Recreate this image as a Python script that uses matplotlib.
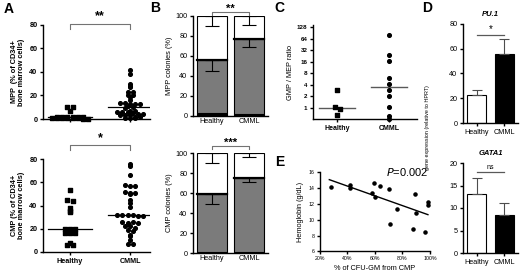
import numpy as np
import matplotlib
matplotlib.use("Agg")
import matplotlib.pyplot as plt
from matplotlib.ticker import FixedLocator, FuncFormatter

plt.rcParams['font.family'] = ['Liberation Sans', 'DejaVu Sans']
plt.rcParams['axes.linewidth'] = 1.0

# ---- data ----
groups = ["Healthy", "CMML"]

# A: % of CD34+ bone marrow cells
mpp_healthy = [10.5, 10.5, 7, 1.5, 1.5, 1.5, 1.5, 1.5, 1.5, 1, 1, 1, 1, 0.5, 0.5, 0, 0]
mpp_cmml = [42, 38, 30, 28, 27, 23, 23, 20, 20, 19, 16, 14, 14, 13, 13, 13, 11, 10,
            9, 7, 7, 6, 6, 6, 5, 4, 4, 3, 3, 3, 2, 1.5, 1, 1, 0.5]
cmp_healthy = [53, 45, 44, 38, 35, 34, 20, 20, 20, 17, 16, 16, 16, 17, 8, 6, 6]
cmp_cmml = [76, 74, 66, 58, 57, 57, 52, 51, 51, 50, 45, 42, 39, 32, 32, 32, 32, 31, 31,
            26, 25, 26, 25, 22, 22, 21, 19, 18, 15, 14, 10, 7, 7]

# B: colony composition (%), bottom black / gray / white up to 100
mpp_black = [3, 2]
mpp_gray_top = [56, 77]
mpp_gray_err = [11, 8]
mpp_white_err = [10, 9]
cmp_black = [1, 1]
cmp_gray_top = [59, 75]
cmp_gray_err = [10, 4]
cmp_white_err = [10, 4]

# C: GMP / MEP ratio
gmp_healthy = [2.9, 1.06, 0.92, 0.64]
gmp_cmml = [81, 24, 16.7, 6, 4.2, 2.9, 2.0, 1.03, 0.6, 0.51]

# D: gene expression relative to HPRT (mean, sem)
pu1_mean = [23, 56]
pu1_err = [4, 11.5]
gata1_mean = [13.2, 8.4]
gata1_err = [3.5, 2.8]

# E: hemoglobin vs % CFU-GM from CMP
cfu_pct = [28.1, 42.4, 42.4, 59.3, 63.7, 57.8, 60.2, 70.1, 71.1, 76.0, 88.9, 89.9,
           87.9, 96.7, 98.5, 98.5]
hemoglobin = [14.1, 14.4, 14.0, 14.7, 14.3, 13.4, 12.9, 13.9, 9.4, 11.4, 13.2, 10.9,
              8.8, 8.4, 12.2, 11.8]

W, H = 520, 274
fig = plt.figure(figsize=(W / 100, H / 100), dpi=100)


def px_axes(left, top, right, bottom):
    # pixel box (from top-left corner) -> figure axes
    return fig.add_axes([left / W, 1 - bottom / H, (right - left) / W, (bottom - top) / H])


def clean(ax, tick_size=5, bold=False):
    for s in ['top', 'right']:
        ax.spines[s].set_visible(False)
    ax.tick_params(length=2.5, width=1.0, pad=1.5, labelsize=tick_size)
    if bold:
        for lab in ax.get_xticklabels() + ax.get_yticklabels():
            lab.set_fontweight('bold')


def swarm(values, center, step, bin_size):
    # spread points with similar values side by side
    vals = np.asarray(values, dtype=float)
    xs = np.full(len(vals), float(center))
    keys = np.round(vals / bin_size)
    for k in np.unique(keys):
        idx = np.where(keys == k)[0]
        n = len(idx)
        xs[idx] = center + (np.arange(n) - (n - 1) / 2) * step
    return xs


def bracket(ax, x0, x1, y, drop, label, size=9, dy=0.0):
    ax.plot([x0, x0, x1, x1], [y - drop, y, y, y - drop], color='0.45', lw=0.8,
            clip_on=False)
    ax.text((x0 + x1) / 2, y + dy, label, ha='center', va='bottom', fontsize=size,
            fontweight='bold', clip_on=False)


# ---------------- Panel A ----------------
for (top, bot), hv, cv, ylab, sig, by in [((25, 119), mpp_healthy, mpp_cmml,
                                           "MPP  (% of CD34+\nbone marrow cells)", "**", 81),
                                          ((159, 252), cmp_healthy, cmp_cmml,
                                           "CMP (% of CD34+\nbone marrow cells)", "*", 92)]:
    ax = px_axes(43, top, 150, bot)
    ax.scatter(swarm(hv, 0, 0.085, 2.2), hv, marker='s', s=7, color='black', clip_on=False,
               zorder=3)
    ax.scatter(swarm(cv, 1, 0.085, 2.6), cv, marker='o', s=7, color='black', clip_on=False,
               zorder=3)
    for x, v in zip([0, 1], [hv, cv]):
        m = np.median(v)
        ax.plot([x - 0.37, x + 0.37], [m, m], color='black', lw=0.9)
    ax.set_xlim(-0.45, 1.33)
    ax.set_ylim(0, 80)
    ax.set_yticks([0, 20, 40, 60, 80])
    ax.set_xticks([0, 1])
    ax.set_xticklabels(groups if top > 100 else ['', ''])
    if top < 100:
        ax.tick_params(axis='x', length=0)
    clean(ax, 5.2, bold=True)
    ax.set_ylabel(ylab, fontsize=5.3, fontweight='bold', labelpad=3, linespacing=1.1)
    bracket(ax, 0, 1, by, 4.5, sig, size=9, dy=1)

fig.text(4 / W, 1 - 2 / H, "A", fontsize=10, fontweight='bold', va='top')

# ---------------- Panel B ----------------
gray = '#7b7b7b'
for (top, bot), blk, gtop, gerr, werr, ylab, sig, by in [
        ((16, 116), mpp_black, mpp_gray_top, mpp_gray_err, mpp_white_err,
         "MPP colonies (%)", "**", 104),
        ((153, 253), cmp_black, cmp_gray_top, cmp_gray_err, cmp_white_err,
         "CMP colonies (%)", "***", 107)]:
    ax = px_axes(193, top, 268, bot)
    x = np.arange(2)
    gbar = np.array(gtop) - np.array(blk)
    wbar = 100 - np.array(gtop)
    ax.bar(x, blk, width=0.8, color='black', edgecolor='black', lw=0.8)
    ax.bar(x, gbar, bottom=blk, width=0.8, color=gray, edgecolor='black', lw=0.8)
    ax.bar(x, wbar, bottom=gtop, width=0.8, color='white', edgecolor='black', lw=0.8)
    ax.plot([x - 0.4, x + 0.4], [gtop, gtop], color='black', lw=1.6)
    ax.errorbar(x, gtop, yerr=[gerr, [0, 0]], fmt='none', ecolor='black', elinewidth=0.8,
                capsize=5, capthick=0.8)
    ax.errorbar(x, [100, 100], yerr=[werr, [0, 0]], fmt='none', ecolor='black',
                elinewidth=0.8, capsize=5, capthick=0.8)
    ax.set_xlim(-0.5, 1.5)
    ax.set_ylim(0, 100)
    ax.set_yticks([0, 20, 40, 60, 80, 100])
    ax.set_xticks(x)
    ax.set_xticklabels(groups)
    clean(ax, 5.2)
    ax.tick_params(axis='x', length=0)
    ax.set_ylabel(ylab, fontsize=5.3, labelpad=2)
    bracket(ax, 0, 1, by, 3, sig, size=8, dy=-2)

fig.text(150 / W, 1 - 1 / H, "B", fontsize=10, fontweight='bold', va='top')

# ---------------- Panel C ----------------
ax = px_axes(313, 25, 417, 119)
ax.set_yscale('log', base=2)
ax.scatter(swarm(gmp_healthy, 0, 0.1, 0.25), gmp_healthy, marker='s', s=7, color='black',
           clip_on=False, zorder=3)
ax.scatter(swarm(gmp_cmml, 1, 0.1, 0.12), gmp_cmml, marker='o', s=7, color='black',
           clip_on=False, zorder=3)
for x, v in zip([0, 1], [gmp_healthy, gmp_cmml]):
    m = np.median(v)
    ax.plot([x - 0.35, x + 0.35], [m, m], color='0.35', lw=1.0)
ax.set_xlim(-0.47, 1.54)
ax.set_ylim(0.5, 145)
ax.yaxis.set_major_locator(FixedLocator([1, 2, 4, 8, 16, 32, 64, 128]))
ax.yaxis.set_major_formatter(FuncFormatter(lambda v, p: f"{int(v)}"))
ax.yaxis.set_minor_locator(FixedLocator([]))
ax.set_xticks([0, 1])
ax.set_xticklabels(groups)
clean(ax, 4.5, bold=True)
ax.tick_params(axis='x', labelsize=5)
ax.set_ylabel("GMP / MEP ratio", fontsize=5.3, labelpad=2)
fig.text(274 / W, 1 - 1 / H, "C", fontsize=10, fontweight='bold', va='top')

# ---------------- Panel D ----------------
for (top, bot), mean, err, ttl, lim, ticks, sig, sy in [
        ((24, 123), pu1_mean, pu1_err, "PU.1", 80, [0, 20, 40, 60, 80], "*", 71),
        ((163, 253), gata1_mean, gata1_err, "GATA1", 20, [0, 5, 10, 15, 20], "ns", 18)]:
    ax = px_axes(463, top, 518, bot)
    x = np.arange(2)
    ax.bar(x, mean, width=0.69, color=['white', 'black'], edgecolor='black', lw=0.8)
    ax.errorbar(x, mean, yerr=[[0, 0], err], fmt='none', ecolor='0.3', elinewidth=0.8,
                capsize=3.5, capthick=0.8)
    ax.set_xlim(-0.49, 1.49)
    ax.set_ylim(0, lim)
    ax.set_yticks(ticks)
    ax.set_xticks(x)
    ax.set_xticklabels(groups)
    clean(ax, 5.2)
    ax.plot([0, 1], [sy, sy], color='0.35', lw=0.9, clip_on=False)
    ax.text(0.5, sy + lim * 0.01, sig, ha='center', va='bottom', fontsize=5 if sig == 'ns'
            else 7, clip_on=False)
    ax.set_title(ttl, fontsize=5.5, fontweight='bold', fontstyle='italic', pad=6)

fig.text(428 / W, 1 - 128 / H, "gene expression (relative to HPRT)", rotation=90,
         fontsize=3.9, ha='center', va='center')
fig.text(422 / W, 1 - 1 / H, "D", fontsize=10, fontweight='bold', va='top')

# ---------------- Panel E ----------------
ax = px_axes(319.5, 172.3, 430, 251.3)
ax.scatter(cfu_pct, hemoglobin, s=5, color='black', zorder=3, clip_on=False)
k, b = np.polyfit(cfu_pct, hemoglobin, 1)
xl = np.array([min(cfu_pct) - 1, max(cfu_pct)])
ax.plot(xl, k * xl + b, color='black', lw=1.0)
ax.set_xlim(20, 100)
ax.set_ylim(6, 16)
ax.set_xticks([20, 40, 60, 80, 100])
ax.set_xticklabels([f"{t}%" for t in [20, 40, 60, 80, 100]])
ax.set_yticks([6, 8, 10, 12, 14, 16])
clean(ax, 3.8)
ax.tick_params(length=2)
ax.set_xlabel("% of CFU-GM from CMP", fontsize=5.3, labelpad=3)
ax.set_ylabel("Hemoglobin (g/dL)", fontsize=5.3, labelpad=3)
ax.text(0.60, 1.0, "$P$=0.002", transform=ax.transAxes, fontsize=8, va='center')
fig.text(275 / W, 1 - 155 / H, "E", fontsize=10, fontweight='bold', va='top')

fig.savefig("out.png", dpi=100)
